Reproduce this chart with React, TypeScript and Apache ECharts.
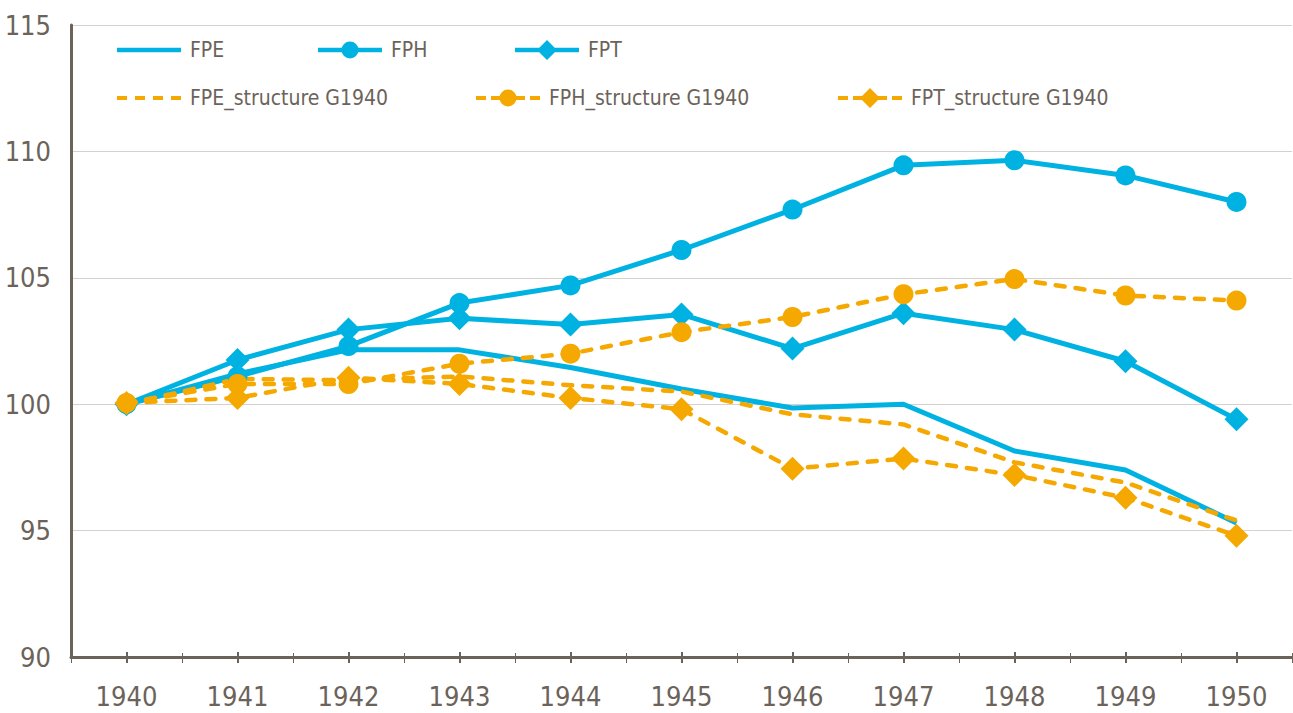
import React, { useEffect, useRef } from "react";
import * as echarts from "echarts";

const years = ["1940", "1941", "1942", "1943", "1944", "1945", "1946", "1947", "1948", "1949", "1950"];
const fpe = [100, 101.2, 102.15, 102.15, 101.45, 100.6, 99.85, 100.0, 98.15, 97.4, 95.3];
const fph = [100, 101.1, 102.3, 104.0, 104.7, 106.1, 107.7, 109.45, 109.65, 109.05, 108.0];
const fpt = [100, 101.75, 102.95, 103.4, 103.15, 103.55, 102.2, 103.6, 102.95, 101.7, 99.4];
const fpeS = [100, 101.0, 100.95, 101.1, 100.75, 100.5, 99.6, 99.2, 97.7, 96.9, 95.4];
const fphS = [100.05, 100.8, 100.8, 101.6, 102.0, 102.85, 103.45, 104.35, 104.95, 104.3, 104.1];
const fptS = [100.05, 100.25, 101.05, 100.8, 100.25, 99.8, 97.45, 97.85, 97.2, 96.3, 94.8];
const yMin = 90;
const yMax = 115;
const yStep = 5;

const BLUE = "#00B2E2";
const ORANGE = "#F5A800";
const BROWN = "#6B635A";
const GRID = "#D6D1CC";
const FONT = "'Liberation Sans Narrow', 'DejaVu Sans Condensed', 'Arial Narrow', sans-serif";

// legend icons (line + marker), drawn as filled paths
const ICON_LINE = "path://M0,0 H64 V4.5 H0 Z";
const ICON_CIRCLE = "path://M0,6.25 H64 V10.75 H0 Z M23.5,8.5 A8.5,8.5 0 1,1 40.5,8.5 A8.5,8.5 0 1,1 23.5,8.5 Z";
const ICON_DIAMOND = "path://M0,7.75 H64 V12.25 H0 Z M32,0 L42,10 L32,20 L22,10 Z";
const ICON_DASH = "path://M0,0 H10 V4 H0 Z M18,0 H28 V4 H18 Z M36,0 H46 V4 H36 Z M54,0 H64 V4 H54 Z";
const ICON_DASH_CIRCLE =
  "path://M0,6.5 H10 V10.5 H0 Z M15,6.5 H25 V10.5 H15 Z M39,6.5 H49 V10.5 H39 Z M54,6.5 H64 V10.5 H54 Z M23.5,8.5 A8.5,8.5 0 1,1 40.5,8.5 A8.5,8.5 0 1,1 23.5,8.5 Z";
const ICON_DASH_DIAMOND =
  "path://M0,8 H10 V12 H0 Z M15,8 H25 V12 H15 Z M39,8 H49 V12 H39 Z M54,8 H64 V12 H54 Z M32,0 L42,10 L32,20 L22,10 Z";

export default function App() {
  const ref = useRef<HTMLDivElement>(null);
  useEffect(() => {
    if (!ref.current) return;
    const chart = echarts.init(ref.current, null, { renderer: "svg" });
    const solid = (name: string, data: number[], symbol: string, size: number) => ({
      name,
      type: "line",
      data,
      xAxisIndex: 0,
      symbol,
      symbolSize: size,
      showSymbol: symbol !== "none",
      lineStyle: { color: BLUE, width: 5 },
      itemStyle: { color: BLUE },
      emphasis: { disabled: true },
    });
    const dashed = (name: string, data: number[], symbol: string, size: number) => ({
      name,
      type: "line",
      data,
      xAxisIndex: 0,
      symbol,
      symbolSize: size,
      showSymbol: symbol !== "none",
      lineStyle: { color: ORANGE, width: 4.5, type: [9, 11], cap: "round" },
      itemStyle: { color: ORANGE },
      emphasis: { disabled: true },
    });
    const legend = (name: string, icon: string, h: number, left: number, center: number) => ({
      data: [{ name, icon }],
      left,
      top: center - 11,
      padding: 0,
      itemWidth: 64,
      itemHeight: h,
      selectedMode: false,
      itemStyle: { borderWidth: 0 },
      textStyle: { fontFamily: FONT, fontSize: 21, lineHeight: 22, color: BROWN, padding: [0, 0, 0, 4] },
    });
    const tickAxis = (align: boolean, inside: boolean, len: number, w: number) => ({
      type: "category",
      data: years,
      position: "bottom",
      boundaryGap: true,
      axisLine: { show: false },
      axisLabel: { show: false },
      splitLine: { show: false },
      axisTick: { show: true, alignWithLabel: align, inside, length: len, lineStyle: { color: BROWN, width: w } },
    });
    chart.setOption({
      animation: false,
      backgroundColor: "#ffffff",
      grid: { left: 71, top: 25, width: 1221, bottom: 56, containLabel: false, outerBoundsMode: "none" },
      legend: [
        legend("FPE", ICON_LINE, 4.5, 117, 50),
        legend("FPH", ICON_CIRCLE, 17, 318, 50),
        legend("FPT", ICON_DIAMOND, 20, 515, 50),
        legend("FPE_structure G1940", ICON_DASH, 4, 117, 98),
        legend("FPH_structure G1940", ICON_DASH_CIRCLE, 17, 476, 98),
        legend("FPT_structure G1940", ICON_DASH_DIAMOND, 20, 838, 98),
      ],
      xAxis: [
        {
          type: "category",
          data: years,
          position: "bottom",
          boundaryGap: true,
          axisLine: { show: true, lineStyle: { color: BROWN, width: 3 } },
          axisTick: { show: true, alignWithLabel: false, length: 6, lineStyle: { color: BROWN, width: 1 } },
          axisLabel: { fontFamily: FONT, fontSize: 27, color: BROWN, margin: 26 },
          splitLine: { show: false },
        },
        tickAxis(true, false, 6, 2),
        tickAxis(false, true, 4, 1),
        tickAxis(true, true, 5, 2),
      ],
      yAxis: {
        type: "value",
        min: yMin,
        max: yMax,
        interval: yStep,
        axisLine: { show: true, lineStyle: { color: BROWN, width: 3 } },
        axisTick: { show: false },
        axisLabel: { fontFamily: FONT, fontSize: 27, color: BROWN, margin: 20 },
        splitLine: { show: true, lineStyle: { color: GRID, width: 1 } },
      },
      series: [
        solid("FPE", fpe, "none", 0),
        solid("FPH", fph, "circle", 20),
        solid("FPT", fpt, "diamond", 24),
        dashed("FPE_structure G1940", fpeS, "none", 0),
        dashed("FPH_structure G1940", fphS, "circle", 20),
        dashed("FPT_structure G1940", fptS, "diamond", 24),
      ],
    });
    return () => chart.dispose();
  }, []);
  return (
    <div
      ref={ref}
      style={{ position: "absolute", left: 0, top: 0, width: 1293, height: 713, background: "#fff" }}
    />
  );
}
